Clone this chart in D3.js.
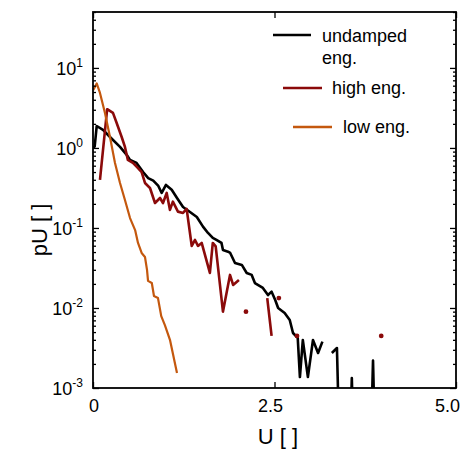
<!DOCTYPE html>
<html><head><meta charset="utf-8">
<script src="https://cdn.jsdelivr.net/npm/d3@7"></script>
<style>body{margin:0;background:#fff;} text{font-family:"Liberation Sans",Arial,Helvetica,sans-serif;fill:#000;}</style>
</head><body><svg id="c" width="462" height="450"></svg>
<script>
// ---- data ----
const undampedU = [0.0,0.023,0.051,0.138,0.234,0.372,0.464,0.51,0.60,0.69,0.76,0.83,0.90,0.946,1.005,1.084,1.157,1.24,1.336,1.43,1.515,1.584,1.65,1.70,1.77,1.79,1.86,1.89,1.956,2.05,2.117,2.186,2.23,2.34,2.41,2.46,2.51,2.55,2.64,2.71,2.755,2.82,2.85,2.89,2.96,3.03,3.10,3.16,3.23,3.29,3.36,3.43,3.50,3.565,3.63,3.70,3.79,3.857,3.92];
const undampedP = [1.0,1.04,1.88,1.68,1.37,1.03,0.82,0.71,0.65,0.50,0.42,0.39,0.335,0.274,0.345,0.30,0.237,0.183,0.158,0.137,0.104,0.0866,0.075,0.071,0.065,0.053,0.0505,0.0487,0.0365,0.0345,0.0274,0.0259,0.0205,0.0178,0.0145,0.016,0.0126,0.0100,0.00866,0.00708,0.00487,0.00422,0.00137,0.00398,0.00137,0.00398,0.00274,0.0038,null,0.00274,0.00316,0.00001,0.00001,0.00133,0.00001,0.00001,0.00001,0.0022,0.00001];

const highU = [0.096,0.195,0.275,0.326,0.395,0.44,0.48,0.55,0.62,0.67,0.716,0.785,0.854,0.923,0.964,1.015,1.06,1.10,1.17,1.24,1.29,1.36,1.405,1.446,1.497,1.61,1.65,1.69,1.79,1.887,1.93,2.01,2.06,2.107,2.2,2.40,2.46,2.51,2.56,2.65,2.81,2.9,3.97];
const highP = [0.398,3.05,2.74,2.05,1.37,1.03,0.71,0.65,0.56,0.50,0.365,0.316,0.205,0.237,0.205,0.274,0.168,0.213,0.16,0.154,0.173,0.0596,0.0708,0.0596,0.065,0.0274,0.065,0.0588,0.009,0.0259,0.0194,0.0224,null,0.009,null,0.0133,0.00447,null,0.0133,null,0.00447,null,0.00447];

const lowU = [0.004,0.051,0.096,0.165,0.234,0.303,0.372,0.44,0.51,0.58,0.62,0.67,0.716,0.744,0.758,0.81,0.84,0.895,0.94,0.99,1.06,1.157];
const lowP = [5.3,6.4,4.87,2.74,1.37,0.65,0.365,0.224,0.133,0.094,0.065,0.0487,0.0434,0.0299,0.0218,0.0205,0.0141,0.0133,0.0079,0.0061,0.0040,0.00154];

const xTickValues = [0, 2.5, 5.0];
const xTickLabels = ["0", "2.5", "5.0"];
const yTickExponents = [-3, -2, -1, 0, 1];
const legendLabels = [["undamped", "eng."], ["high eng."], ["low eng."]];
const seriesColors = ["#000000", "#8b0a0a", "#c4580e"];

// ---- layout ----
const svg = d3.select("#c");
const L = 93, R = 456, T = 12, B = 388;
const x = d3.scaleLinear().domain([0, 5]).range([L, R]);
const y = d3.scaleLog().domain([1e-3, 50]).range([B, T]);

svg.append("defs").append("clipPath").attr("id", "clip")
  .append("rect").attr("x", L).attr("y", T).attr("width", R - L).attr("height", B - T);

const zip = (u, p) => u.map((v, i) => [v, p[i]]);
const series = [zip(undampedU, undampedP), zip(highU, highP), zip(lowU, lowP)];
const widths = [2.6, 2.6, 2.2];

const line = d3.line().defined(d => d[1] != null).x(d => x(d[0])).y(d => y(d[1]));
const g = svg.append("g").attr("clip-path", "url(#clip)");
series.forEach((s, i) => {
  g.append("path").attr("d", line(s)).attr("fill", "none")
    .attr("stroke", seriesColors[i]).attr("stroke-width", widths[i])
    .attr("stroke-linejoin", "round");
  // isolated points show as dots
  const iso = s.filter((d, j) => d[1] != null && (j === 0 || s[j-1][1] == null) && (j === s.length - 1 || s[j+1][1] == null) && s.length > 1);
  g.selectAll(null).data(iso).enter().append("circle")
    .attr("cx", d => x(d[0])).attr("cy", d => y(d[1])).attr("r", 2.4)
    .attr("fill", seriesColors[i]);
});

// ---- axes ----
const majors = yTickExponents.map(e => Math.pow(10, e));
const minors = [];
yTickExponents.forEach(e => { for (let m = 2; m <= 9; m++) { const v = m * Math.pow(10, e); if (v <= 50) minors.push(v); } });

function clean(sel) { sel.select(".domain").remove(); sel.selectAll("text").remove(); sel.selectAll("line").attr("stroke", "#000").attr("stroke-width", 1.3); }
svg.append("g").attr("transform", `translate(${L},0)`).call(d3.axisLeft(y).tickValues(majors).tickSize(-6)).call(clean);
svg.append("g").attr("transform", `translate(${L},0)`).call(d3.axisLeft(y).tickValues(minors).tickSize(-3)).call(clean);
svg.append("g").attr("transform", `translate(${R},0)`).call(d3.axisRight(y).tickValues(majors).tickSize(-6)).call(clean);
svg.append("g").attr("transform", `translate(${R},0)`).call(d3.axisRight(y).tickValues(minors).tickSize(-3)).call(clean);
svg.append("g").attr("transform", `translate(0,${B})`).call(d3.axisBottom(x).tickValues(xTickValues).tickSize(-6)).call(clean);
svg.append("g").attr("transform", `translate(0,${T})`).call(d3.axisTop(x).tickValues(xTickValues).tickSize(-6)).call(clean);

svg.append("rect").attr("x", L).attr("y", T).attr("width", R - L).attr("height", B - T)
  .attr("fill", "none").attr("stroke", "#000").attr("stroke-width", 1.8);

// x tick labels
svg.selectAll(".xl").data(xTickValues).enter().append("text")
  .attr("x", (d, i) => i === xTickValues.length - 1 ? 460 : x(d) + (i === 0 ? 1 : -4))
  .attr("y", 412).attr("font-size", 18)
  .attr("text-anchor", (d, i) => i === xTickValues.length - 1 ? "end" : "middle")
  .text((d, i) => xTickLabels[i]);

// y tick labels 10^k
yTickExponents.forEach(e => {
  const t = svg.append("text").attr("x", 83).attr("y", y(Math.pow(10, e)) + 7)
    .attr("text-anchor", "end").attr("font-size", 18);
  t.append("tspan").text("10");
  t.append("tspan").attr("font-size", 12).attr("dy", -8).text(e < 0 ? "-" + (-e) : String(e));
});

// axis titles
svg.append("text").attr("x", 278).attr("y", 444).attr("text-anchor", "middle").attr("font-size", 22).text("U [ ]");
svg.append("text").attr("transform", "translate(47,230) rotate(-90)").attr("text-anchor", "middle").attr("font-size", 22).text("pU [ ]");

// ---- legend ----
const legendRows = [
  {x1: 273, x2: 311, ly: 35, tx: 322, ty: [42, 64]},
  {x1: 283, x2: 322, ly: 88, tx: 332, ty: [94]},
  {x1: 293, x2: 332, ly: 127, tx: 343, ty: [133]}
];
legendRows.forEach((r, i) => {
  svg.append("line").attr("x1", r.x1).attr("x2", r.x2).attr("y1", r.ly).attr("y2", r.ly)
    .attr("stroke", seriesColors[i]).attr("stroke-width", i === 0 ? 2.6 : 2.4);
  legendLabels[i].forEach((s, k) => {
    svg.append("text").attr("x", r.tx).attr("y", r.ty[k]).attr("font-size", 18).text(s);
  });
});
</script></body></html>
